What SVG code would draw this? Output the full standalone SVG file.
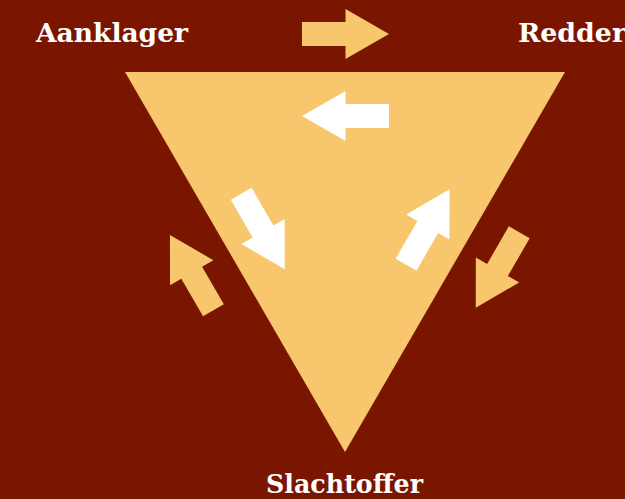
<svg xmlns="http://www.w3.org/2000/svg" width="625" height="499" viewBox="0 0 625 499">
<defs>
<style>
.lbl{font-family:"DejaVu Serif","Liberation Serif",serif;font-weight:bold;font-size:26px;fill:#ffffff}
.o{fill:#F8C66C}
.w{fill:#ffffff}
</style>
<polygon id="arr" points="-43.5,-12 0,-12 0,-25 43.5,0 0,25 0,12 -43.5,12"/>
</defs>
<rect width="625" height="499" fill="#7A1600"/>
<g id="triangle"><polygon class="o" points="125,72 565,72 345,452"/></g>
<g id="connectors">
<use href="#arr" class="o" transform="translate(345.5,34)"/>
<use href="#arr" class="w" transform="translate(345.5,116) rotate(180)"/>
<use href="#arr" class="w" transform="translate(263,231.5) rotate(60)"/>
<use href="#arr" class="o" transform="translate(191.7,272.7) rotate(240)"/>
<use href="#arr" class="w" transform="translate(427.8,227) rotate(-60)"/>
<use href="#arr" class="o" transform="translate(497.5,270) rotate(120)"/>
</g>
<g id="aanklager"><text class="lbl" x="36" y="42" textLength="152" lengthAdjust="spacingAndGlyphs">Aanklager</text></g>
<g id="redder"><text class="lbl" x="518" y="42" textLength="108" lengthAdjust="spacingAndGlyphs">Redder</text></g>
<g id="slachtoffer"><text class="lbl" x="266" y="493" textLength="157" lengthAdjust="spacingAndGlyphs">Slachtoffer</text></g>
</svg>
